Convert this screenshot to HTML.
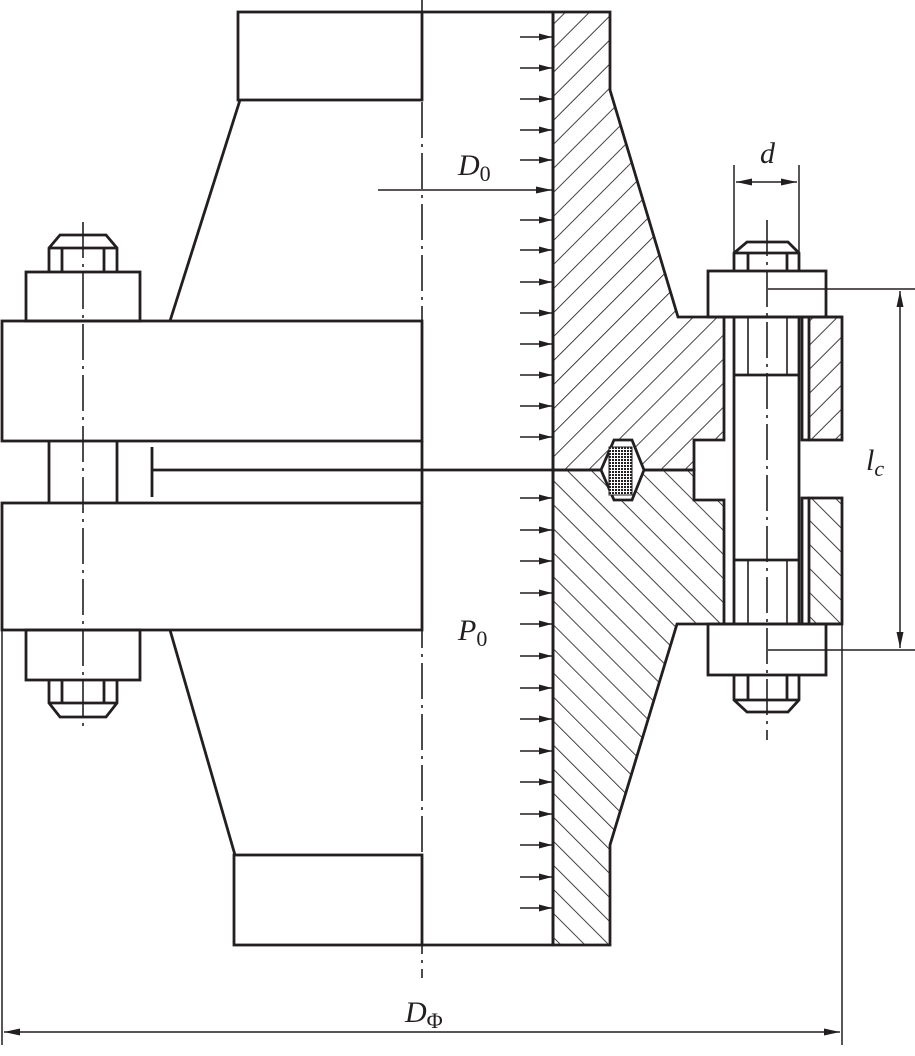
<!DOCTYPE html>
<html><head><meta charset="utf-8"><style>
html,body{margin:0;padding:0;background:#fff}
svg{display:block}
text{font-family:"Liberation Serif",serif;font-style:italic;fill:#231f20}
</style></head><body>
<svg width="915" height="1056" viewBox="0 0 915 1056" xmlns="http://www.w3.org/2000/svg">
<defs>
<pattern id="hU" patternUnits="userSpaceOnUse" width="17" height="17" patternTransform="rotate(45)">
<line x1="0" y1="0" x2="0" y2="17" stroke="#231f20" stroke-width="1.7"/></pattern>
<pattern id="hD" patternUnits="userSpaceOnUse" width="17" height="17" patternTransform="rotate(-45)">
<line x1="0" y1="0" x2="0" y2="17" stroke="#231f20" stroke-width="1.7"/></pattern>
<pattern id="xh" patternUnits="userSpaceOnUse" width="3" height="3">
<rect width="3" height="3" fill="#fff"/><rect width="2" height="2" fill="#231f20"/></pattern>
<marker id="ar" markerWidth="13" markerHeight="7" refX="13" refY="3.5" orient="auto" markerUnits="userSpaceOnUse">
<path d="M0,0 L13,3.5 L0,7 z" fill="#231f20"/></marker>
<marker id="al" markerWidth="16" markerHeight="7" refX="16" refY="3.5" orient="auto-start-reverse" markerUnits="userSpaceOnUse">
<path d="M0,0 L16,3.5 L0,7 z" fill="#231f20"/></marker>
</defs>
<g stroke="#231f20" fill="none" stroke-width="2.8">
<path d="M553,12 H610 V90 L678,317 H724 V440 H694 V470 H553 Z" fill="url(#hU)"/>
<path d="M553,470 H694 V500 H724 V624 H677 L610,845 V945 H553 Z" fill="url(#hD)"/>
<rect x="809" y="317" width="33" height="123" fill="url(#hU)"/>
<rect x="809" y="498" width="33" height="126" fill="url(#hD)"/>
<path d="M614,440 H632 L644,470 L632,500 H614 L601,470 Z" fill="#fff"/>
<rect x="609" y="447" width="23" height="48" fill="url(#xh)" stroke-width="1"/>
<rect x="238" y="12" width="184" height="88"/>
<rect x="234" y="855" width="188" height="90"/>
<line x1="553" y1="12" x2="553" y2="945"/>
<line x1="422" y1="945" x2="553" y2="945"/>
<line x1="422" y1="12" x2="553" y2="12"/>
<line x1="170" y1="321" x2="240" y2="100"/>
<line x1="170" y1="630" x2="235" y2="855"/>
<rect x="2" y="321" width="420" height="120"/>
<rect x="2" y="503" width="420" height="127"/>
<line x1="422" y1="441" x2="422" y2="503"/>
<rect x="26" y="272" width="114" height="49"/>
<path d="M49,272 V248 L60,235 H106 L117,248 V272 M49,248 H117 M62,248 V272 M104,248 V272"/>
<line x1="49" y1="441" x2="49" y2="503"/><line x1="117" y1="441" x2="117" y2="503"/>
<rect x="26" y="630" width="114" height="50"/>
<path d="M49,680 V703 L60,717 H106 L117,703 V680 M49,703 H117 M62,680 V703 M104,680 V703"/>
<line x1="152" y1="447" x2="152" y2="497"/>
<line x1="152" y1="470" x2="553" y2="470"/>
<rect x="708" y="271" width="118" height="46"/>
<path d="M734,271 V253 L747,242 H788 L799,253 V271 M734,253 H799 M748,253 V271 M787,253 V271"/>
<line x1="734" y1="317" x2="734" y2="624"/><line x1="799" y1="317" x2="799" y2="624"/>
<line x1="724" y1="317" x2="842" y2="317"/><line x1="724" y1="624" x2="842" y2="624"/>
<path d="M802,317 V440 H809 M802,624 V498 H809"/>
<line x1="734" y1="375" x2="799" y2="375"/><line x1="734" y1="560" x2="799" y2="560"/>
<path d="M748,317 V375 M787,317 V375 M748,560 V624 M787,560 V624" stroke-width="1.6"/>
<rect x="708" y="624" width="118" height="51"/>
<path d="M734,675 V700 L747,712 H788 L799,700 V675 M734,700 H799 M748,675 V700 M787,675 V700"/>
</g>
<g stroke="#231f20" stroke-width="1.6" fill="none" stroke-dasharray="36,6,3,6">
<line x1="422" y1="0" x2="422" y2="978"/>
<line x1="83" y1="222" x2="83" y2="730"/>
<line x1="767" y1="220" x2="767" y2="740"/>
</g>
<g stroke="#231f20" stroke-width="1.5" fill="none">
<line x1="768" y1="289" x2="915" y2="289"/>
<line x1="768" y1="650" x2="915" y2="650"/>
<line x1="900" y1="291" x2="900" y2="648" marker-start="url(#al)" marker-end="url(#al)"/>
<line x1="734" y1="165" x2="734" y2="253"/>
<line x1="799" y1="165" x2="799" y2="253"/>
<line x1="736" y1="182" x2="797" y2="182" marker-start="url(#al)" marker-end="url(#al)"/>
<line x1="378" y1="190" x2="552" y2="190" marker-end="url(#al)"/>
<line x1="2" y1="630" x2="2" y2="1045"/>
<line x1="842" y1="624" x2="842" y2="1045"/>
<line x1="4" y1="1032" x2="840" y2="1032" marker-start="url(#al)" marker-end="url(#al)"/>
</g>
<g stroke="#231f20" stroke-width="1.4">
<line x1="520" y1="37" x2="552" y2="37" marker-end="url(#ar)"/>
<line x1="520" y1="68" x2="552" y2="68" marker-end="url(#ar)"/>
<line x1="520" y1="99" x2="552" y2="99" marker-end="url(#ar)"/>
<line x1="520" y1="130" x2="552" y2="130" marker-end="url(#ar)"/>
<line x1="520" y1="160" x2="552" y2="160" marker-end="url(#ar)"/>
<line x1="520" y1="220" x2="552" y2="220" marker-end="url(#ar)"/>
<line x1="520" y1="250" x2="552" y2="250" marker-end="url(#ar)"/>
<line x1="520" y1="282" x2="552" y2="282" marker-end="url(#ar)"/>
<line x1="520" y1="313" x2="552" y2="313" marker-end="url(#ar)"/>
<line x1="520" y1="344" x2="552" y2="344" marker-end="url(#ar)"/>
<line x1="520" y1="375" x2="552" y2="375" marker-end="url(#ar)"/>
<line x1="520" y1="406" x2="552" y2="406" marker-end="url(#ar)"/>
<line x1="520" y1="437" x2="552" y2="437" marker-end="url(#ar)"/>
<line x1="520" y1="498" x2="552" y2="498" marker-end="url(#ar)"/>
<line x1="520" y1="530" x2="552" y2="530" marker-end="url(#ar)"/>
<line x1="520" y1="561" x2="552" y2="561" marker-end="url(#ar)"/>
<line x1="520" y1="593" x2="552" y2="593" marker-end="url(#ar)"/>
<line x1="520" y1="624" x2="552" y2="624" marker-end="url(#ar)"/>
<line x1="520" y1="656" x2="552" y2="656" marker-end="url(#ar)"/>
<line x1="520" y1="688" x2="552" y2="688" marker-end="url(#ar)"/>
<line x1="520" y1="719" x2="552" y2="719" marker-end="url(#ar)"/>
<line x1="520" y1="751" x2="552" y2="751" marker-end="url(#ar)"/>
<line x1="520" y1="782" x2="552" y2="782" marker-end="url(#ar)"/>
<line x1="520" y1="814" x2="552" y2="814" marker-end="url(#ar)"/>
<line x1="520" y1="845" x2="552" y2="845" marker-end="url(#ar)"/>
<line x1="520" y1="877" x2="552" y2="877" marker-end="url(#ar)"/>
<line x1="520" y1="908" x2="552" y2="908" marker-end="url(#ar)"/>
</g>
<text x="458" y="175" font-size="30">D<tspan font-style="normal" font-size="22" dy="6">0</tspan></text>
<text x="458" y="640" font-size="30">P<tspan font-style="normal" font-size="22" dy="6">0</tspan></text>
<text x="760" y="163" font-size="30">d</text>
<text x="866" y="470" font-size="30">l<tspan font-size="22" dy="6">c</tspan></text>
<text x="405" y="1022" font-size="30">D<tspan font-style="normal" font-size="22" dy="6">Φ</tspan></text>
</svg>
</body></html>
